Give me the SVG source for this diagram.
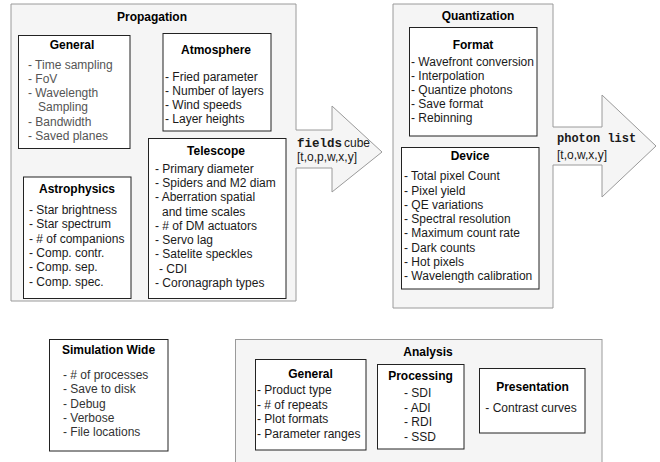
<svg xmlns="http://www.w3.org/2000/svg" width="660" height="462" viewBox="0 0 660 462">
<style>
.cont{fill:#f5f5f5;stroke:#9a9a9a;stroke-width:1}
.box{fill:#ffffff;stroke:#222;stroke-width:1}
.t{font-family:"Liberation Sans",Arial,sans-serif;font-size:12px;font-weight:bold;fill:#000;text-anchor:middle}
.i{font-family:"Liberation Sans",Arial,sans-serif;font-size:12px;fill:#1a1a1a}
.g{fill:#555}
.d{fill:#333}
.m{font-family:"Liberation Mono","Courier New",monospace;font-size:12.5px;font-weight:bold;fill:#1a1a1a}
</style>
<rect width="660" height="462" fill="#ffffff"/>

<g id="propagation">
<polygon class="cont" points="11,4 296,4 296,130 332,130 332,106 382,152 332,192 332,168 296,168 296,301 11,301"/>
<text class="t" x="152" y="21">Propagation</text>
</g>
<g id="prop-general">
<rect class="box" x="18.5" y="35.5" width="111.5" height="113"/>
<text class="t" x="72" y="49">General</text>
<text class="i g" x="28" y="69">- Time sampling</text>
<text class="i g" x="28" y="83">- FoV</text>
<text class="i g" x="28" y="97">- Wavelength</text>
<text class="i g" x="38" y="111">Sampling</text>
<text class="i g" x="28" y="125.5">- Bandwidth</text>
<text class="i g" x="28" y="140">- Saved planes</text>
</g>
<g id="atmosphere">
<rect class="box" x="163" y="33.5" width="108" height="97.5"/>
<text class="t" x="216" y="54">Atmosphere</text>
<text class="i" x="165" y="81">- Fried parameter</text>
<text class="i" x="165" y="95">- Number of layers</text>
<text class="i" x="165" y="109">- Wind speeds</text>
<text class="i" x="165" y="123">- Layer heights</text>
</g>
<g id="telescope">
<rect class="box" x="148.5" y="138.5" width="137.5" height="160"/>
<text class="t" x="216" y="154.5">Telescope</text>
<text class="i" x="155" y="172.5">- Primary diameter</text>
<text class="i" x="155" y="187">- Spiders and M2 diam</text>
<text class="i" x="155" y="201">- Aberration spatial</text>
<text class="i" x="162" y="215.5">and time scales</text>
<text class="i" x="155" y="230">- # of DM actuators</text>
<text class="i" x="155" y="244">- Servo lag</text>
<text class="i" x="155" y="258">- Satelite speckles</text>
<text class="i" x="159" y="272.5">- CDI</text>
<text class="i" x="155" y="287">- Coronagraph types</text>
</g>
<g id="astrophysics">
<rect class="box" x="23.5" y="177" width="107.5" height="121.5"/>
<text class="t" x="77" y="193">Astrophysics</text>
<text class="i" x="29" y="213.5">- Star brightness</text>
<text class="i" x="29" y="228">- Star spectrum</text>
<text class="i" x="29" y="242.5">- # of companions</text>
<text class="i" x="29" y="257">- Comp. contr.</text>
<text class="i" x="29" y="271">- Comp. sep.</text>
<text class="i" x="29" y="285.5">- Comp. spec.</text>
</g>

<g id="quantization">
<polygon class="cont" points="393,4 553,4 553,127 602,127 602,95 656,146 602,197 602,165 553,165 553,308 393,308"/>
<text class="t" x="478" y="19.5">Quantization</text>
</g>
<g id="format">
<rect class="box" x="409.5" y="27.5" width="127.5" height="108.5"/>
<text class="t" x="473" y="49">Format</text>
<text class="i" x="411" y="65.5">- Wavefront conversion</text>
<text class="i" x="411" y="80">- Interpolation</text>
<text class="i" x="411" y="94">- Quantize photons</text>
<text class="i" x="411" y="108">- Save format</text>
<text class="i" x="411" y="122">- Rebinning</text>
</g>
<g id="device">
<rect class="box" x="401.5" y="147.5" width="137.5" height="141.5"/>
<text class="t" x="470" y="159.5">Device</text>
<text class="i" x="404" y="180">- Total pixel Count</text>
<text class="i" x="404" y="194.5">- Pixel yield</text>
<text class="i" x="404" y="208.5">- QE variations</text>
<text class="i" x="404" y="223">- Spectral resolution</text>
<text class="i" x="404" y="237">- Maximum count rate</text>
<text class="i" x="404" y="252">- Dark counts</text>
<text class="i" x="404" y="266">- Hot pixels</text>
<text class="i" x="404" y="280">- Wavelength calibration</text>
</g>

<g id="connectors">
<text x="297" y="146.5"><tspan class="m">fields</tspan><tspan class="i" dx="2">cube</tspan></text>
<text class="i" x="297" y="160.5">[t,o,p,w,x,y]</text>
<text class="m" x="557" y="142" style="font-size:12px">photon list</text>
<text class="i" x="557" y="159">[t,o,w,x,y]</text>
</g>

<g id="simulation-wide">
<rect class="box" x="49.5" y="339.5" width="118.5" height="111.5"/>
<text class="t" x="108.5" y="353.5">Simulation Wide</text>
<text class="i d" x="63" y="379">- # of processes</text>
<text class="i d" x="63" y="393">- Save to disk</text>
<text class="i d" x="63" y="407.5">- Debug</text>
<text class="i d" x="63" y="422">- Verbose</text>
<text class="i d" x="63" y="436">- File locations</text>
</g>

<g id="analysis">
<rect class="cont" x="235.5" y="339.5" width="366.5" height="130"/>
<text class="t" x="428" y="355.5">Analysis</text>
</g>
<g id="analysis-general">
<rect class="box" x="255.5" y="359.5" width="110.5" height="90.5"/>
<text class="t" x="310.5" y="377.5">General</text>
<text class="i" x="257" y="394">- Product type</text>
<text class="i" x="257" y="408.5">- # of repeats</text>
<text class="i" x="257" y="423">- Plot formats</text>
<text class="i" x="257" y="437.5">- Parameter ranges</text>
</g>
<g id="processing">
<rect class="box" x="377.5" y="364.5" width="86.5" height="84.5"/>
<text class="t" x="420.5" y="380">Processing</text>
<text class="i" x="404" y="397">- SDI</text>
<text class="i" x="404" y="411.5">- ADI</text>
<text class="i" x="404" y="426">- RDI</text>
<text class="i" x="404" y="440.5">- SSD</text>
</g>
<g id="presentation">
<rect class="box" x="479.5" y="368.5" width="105.5" height="64.5"/>
<text class="t" x="532.5" y="391">Presentation</text>
<text class="i" x="531" y="412" text-anchor="middle">- Contrast curves</text>
</g>
</svg>
